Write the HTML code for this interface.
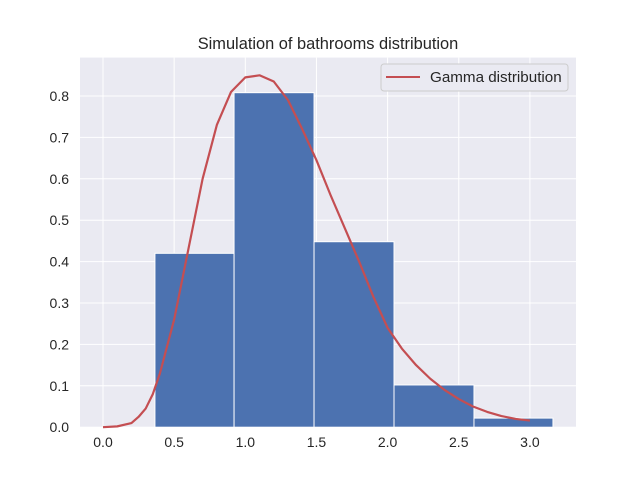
<!DOCTYPE html>
<html><head><meta charset="utf-8"><style>
body{margin:0;background:#fff;}
svg text{font-family:"Liberation Sans",sans-serif;fill:#262626;}
</style></head><body>
<svg id="c" width="640" height="480" xmlns="http://www.w3.org/2000/svg">
<rect width="640" height="480" fill="#fff"/>
<rect x="80" y="57.6" width="496" height="369.6" fill="#eaeaf2"/>
<g id="grid"></g><g id="bars"></g><g id="curve"></g><g id="ticks"></g>
<text x="328" y="49" font-size="16.4" text-anchor="middle">Simulation of bathrooms distribution</text>
<g>
<rect x="381" y="64" width="187" height="27" rx="3" fill="#eaeaf2" stroke="#cccccc"/>
<line x1="386" y1="77" x2="420" y2="77" stroke="#c44e52" stroke-width="2"/>
<text x="430" y="82" font-size="15.2">Gamma distribution</text>
</g>
</svg>
<script>
const binEdges=[0.365,0.921,1.483,2.045,2.607,3.162];
const binHeights=[0.42,0.808,0.448,0.102,0.022];
const curveX=[0,0.1,0.2,0.25,0.3,0.35,0.4,0.5,0.6,0.7,0.8,0.9,1.0,1.1,1.2,1.3,1.4,1.5,1.6,1.7,1.8,1.9,2.0,2.1,2.2,2.3,2.4,2.5,2.6,2.7,2.8,2.9,3.0];
const curveY=[0,0.002,0.01,0.025,0.045,0.08,0.13,0.26,0.43,0.6,0.73,0.81,0.845,0.85,0.835,0.79,0.72,0.645,0.56,0.48,0.4,0.315,0.24,0.19,0.15,0.117,0.09,0.068,0.05,0.037,0.027,0.02,0.016];
const xTicks=[0,0.5,1,1.5,2,2.5,3];
const yTicks=[0,0.1,0.2,0.3,0.4,0.5,0.6,0.7,0.8];
const NS='http://www.w3.org/2000/svg';
const X=v=>103+v*142.3, Y=v=>427.2-v*414;
function mk(t,a,p){const e=document.createElementNS(NS,t);for(const k in a)e.setAttribute(k,a[k]);p.appendChild(e);return e;}
const g=document.getElementById('grid'),b=document.getElementById('bars'),c=document.getElementById('curve'),tk=document.getElementById('ticks');
xTicks.forEach(v=>{const l=mk('line',{x1:X(v),x2:X(v),y1:57.6,y2:427.2,stroke:'#fff','stroke-width':1},g);


const t=mk('text',{x:X(v),y:447,'font-size':14,'text-anchor':'middle'},tk);t.textContent=v.toFixed(1);

});
yTicks.forEach(v=>{const l=mk('line',{x1:80,x2:576,y1:Y(v),y2:Y(v),stroke:'#fff','stroke-width':1},g);


const t=mk('text',{x:69,y:Y(v)+5,'font-size':14,'text-anchor':'end'},tk);t.textContent=v.toFixed(1);

});
binHeights.forEach((h,i)=>{const r=mk('rect',{x:X(binEdges[i]),y:Y(h),width:X(binEdges[i+1])-X(binEdges[i]),height:Y(0)-Y(h),fill:'#4c72b0',stroke:'#fff','stroke-width':1},b);

});
const p=mk('polyline',{points:curveX.map((x,i)=>X(x)+','+Y(curveY[i])).join(' '),fill:'none',stroke:'#c44e52','stroke-width':2.2,'stroke-linejoin':'round'},c);


</script>
</body></html>
